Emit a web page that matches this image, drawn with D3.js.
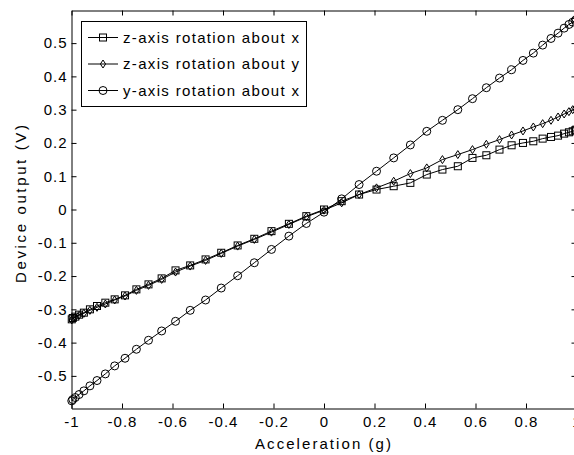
<!DOCTYPE html>
<html>
<head>
<meta charset="utf-8">
<script src="https://cdn.jsdelivr.net/npm/d3@7"></script>
<style>
    body { margin: 0; background: #fff; }
    text { font-family: "Liberation Sans", Arial, sans-serif; fill: #000; }
    .tick-label { font-size: 15px; letter-spacing: 1px; }
    .axis-title { font-size: 15px; }
    .legend-text { font-size: 15px; }
</style>
</head>
<body>
<svg id="chart"></svg>
<script>
// data

let accel = [
    -0.999, -0.995, -0.985, -0.970, -0.951, -0.927, -0.899, -0.866, -0.829, -0.788, -0.743,
    -0.695, -0.643, -0.588, -0.530, -0.469, -0.407, -0.342, -0.276, -0.208, -0.139, -0.070,
    0,
    0.070, 0.139, 0.208, 0.276, 0.342, 0.407, 0.469, 0.530, 0.588, 0.643, 0.695,
    0.743, 0.788, 0.829, 0.866, 0.899, 0.927, 0.951, 0.970, 0.985, 0.995, 0.999
];

let zAboutX = [
    -0.330, -0.326, -0.322, -0.316, -0.310, -0.300, -0.290, -0.280, -0.270, -0.258, -0.240,
    -0.225, -0.207, -0.183, -0.168, -0.150, -0.130, -0.108, -0.088, -0.065, -0.043, -0.020,
    0.000,
    0.025, 0.045, 0.060, 0.070, 0.080, 0.105, 0.120, 0.130, 0.155, 0.163, 0.180,
    0.193, 0.200, 0.205, 0.213, 0.218, 0.222, 0.228, 0.232, 0.235, 0.238, 0.240
];

let zAboutY = [
    -0.332, -0.328, -0.324, -0.318, -0.312, -0.303, -0.294, -0.284, -0.272, -0.260, -0.243,
    -0.228, -0.210, -0.188, -0.170, -0.153, -0.132, -0.110, -0.090, -0.068, -0.045, -0.022,
    -0.002,
    0.020, 0.045, 0.065, 0.085, 0.108, 0.125, 0.150, 0.165, 0.180, 0.196, 0.210,
    0.224, 0.236, 0.248, 0.258, 0.268, 0.278, 0.287, 0.294, 0.300, 0.304, 0.307
];

let yAboutX = [
    -0.575, -0.571, -0.565, -0.556, -0.545, -0.530, -0.514, -0.494, -0.470, -0.447, -0.420,
    -0.393, -0.365, -0.336, -0.303, -0.272, -0.236, -0.199, -0.160, -0.120, -0.080, -0.042,
    -0.008,
    0.032, 0.075, 0.115, 0.155, 0.194, 0.235, 0.268, 0.300, 0.333, 0.366, 0.395,
    0.420, 0.448, 0.470, 0.494, 0.514, 0.530, 0.545, 0.556, 0.563, 0.568, 0.571
];

let seriesNames = ['z-axis rotation about x', 'z-axis rotation about y', 'y-axis rotation about x'];
let seriesMarkers = ['square', 'diamond', 'circle'];

let xTicks = [-1, -0.8, -0.6, -0.4, -0.2, 0, 0.2, 0.4, 0.6, 0.8, 1];
let yTicks = [-0.5, -0.4, -0.3, -0.2, -0.1, 0, 0.1, 0.2, 0.3, 0.4, 0.5];

// sizes

let outerWidth = 574;
let outerHeight = 455;
let plotLeft = 71.5;
let plotRight = 576.5;
let plotTop = 10.5;
let plotBottom = 408.5;
let tickLength = 5;

// scales

let xScale = d3.scaleLinear()
    .domain([-1, 1])
    .range([plotLeft, plotRight]);

let yScale = d3.scaleLinear()
    .domain([-0.598, 0.598])
    .range([plotBottom, plotTop]);

let tickFormat = d => d === 0 ? '0' : String(d);

let svg = d3.select('#chart')
    .attr('width', outerWidth)
    .attr('height', outerHeight);

function drawAxes() {
    let axes = svg.append('g').attr('class', 'axes');

    // bottom, with labels
    axes.append('g')
        .attr('transform', `translate(0, ${plotBottom})`)
        .call(d3.axisBottom(xScale)
            .tickValues(xTicks)
            .tickFormat(tickFormat)
            .tickSizeInner(-tickLength)
            .tickSizeOuter(0)
            .tickPadding(8))
        .call(g => g.selectAll('.tick text').attr('class', 'tick-label').attr('font-size', null).attr('font-family', null));

    // top, ticks only
    axes.append('g')
        .attr('transform', `translate(0, ${plotTop})`)
        .call(d3.axisTop(xScale)
            .tickValues(xTicks)
            .tickFormat('')
            .tickSizeInner(-tickLength)
            .tickSizeOuter(0));

    // left, with labels
    axes.append('g')
        .attr('transform', `translate(${plotLeft}, 0)`)
        .call(d3.axisLeft(yScale)
            .tickValues(yTicks)
            .tickFormat(tickFormat)
            .tickSizeInner(-tickLength)
            .tickSizeOuter(0)
            .tickPadding(4))
        .call(g => g.selectAll('.tick text').attr('class', 'tick-label').attr('font-size', null).attr('font-family', null));

    // right, ticks only
    axes.append('g')
        .attr('transform', `translate(${plotRight}, 0)`)
        .call(d3.axisRight(yScale)
            .tickValues(yTicks)
            .tickFormat('')
            .tickSizeInner(-tickLength)
            .tickSizeOuter(0));

    axes.selectAll('.domain, .tick line')
        .attr('stroke', '#000')
        .attr('stroke-width', 1);

    // titles
    svg.append('text')
        .attr('class', 'axis-title')
        .attr('x', 323)
        .attr('y', 449)
        .attr('text-anchor', 'middle')
        .attr('textLength', 136)
        .text('Acceleration (g)');

    svg.append('text')
        .attr('class', 'axis-title')
        .attr('transform', 'translate(26, 204) rotate(-90)')
        .attr('text-anchor', 'middle')
        .attr('textLength', 158)
        .text('Device output (V)');
}

function marker(g, type, x, y) {
    if (type === 'square') {
        g.append('rect')
            .attr('x', x - 3.5).attr('y', y - 3.5)
            .attr('width', 7).attr('height', 7);
    } else if (type === 'circle') {
        g.append('circle')
            .attr('cx', x).attr('cy', y).attr('r', 4);
    } else {
        g.append('path')
            .attr('transform', `translate(${x}, ${y})`)
            .attr('d', 'M0,-4L2.6,0L0,4L-2.6,0Z');
    }
}

function plot() {
    let main = svg.append('g').attr('class', 'main');
    let allSeries = [zAboutX, zAboutY, yAboutX];

    let line = d3.line()
        .x(d => xScale(d[0]))
        .y(d => yScale(d[1]));

    allSeries.forEach((values, i) => {
        let points = accel.map((a, j) => [a, values[j]]);

        main.append('path')
            .datum(points)
            .attr('d', line)
            .attr('fill', 'none')
            .attr('stroke', '#000')
            .attr('stroke-width', 1);

        let marks = main.append('g')
            .attr('fill', 'none')
            .attr('stroke', '#000')
            .attr('stroke-width', 1);
        points.forEach(p => marker(marks, seriesMarkers[i], xScale(p[0]), yScale(p[1])));
    });
}

function legend() {
    let lg = svg.append('g').attr('class', 'legend');

    lg.append('rect')
        .attr('x', 81.5)
        .attr('y', 21.5)
        .attr('width', 225)
        .attr('height', 85)
        .attr('fill', '#fff')
        .attr('stroke', '#000')
        .attr('stroke-width', 1);

    seriesNames.forEach((name, i) => {
        let y = 37.5 + i * 26.5;
        lg.append('line')
            .attr('x1', 88).attr('x2', 118)
            .attr('y1', y).attr('y2', y)
            .attr('stroke', '#000');

        let marks = lg.append('g')
            .attr('fill', 'none')
            .attr('stroke', '#000');
        marker(marks, seriesMarkers[i], 103, y);

        lg.append('text')
            .attr('class', 'legend-text')
            .attr('x', 123)
            .attr('y', y + 5)
            .attr('textLength', 176)
            .text(name);
    });
}

plot();
drawAxes();
legend();
</script>
</body>
</html>
